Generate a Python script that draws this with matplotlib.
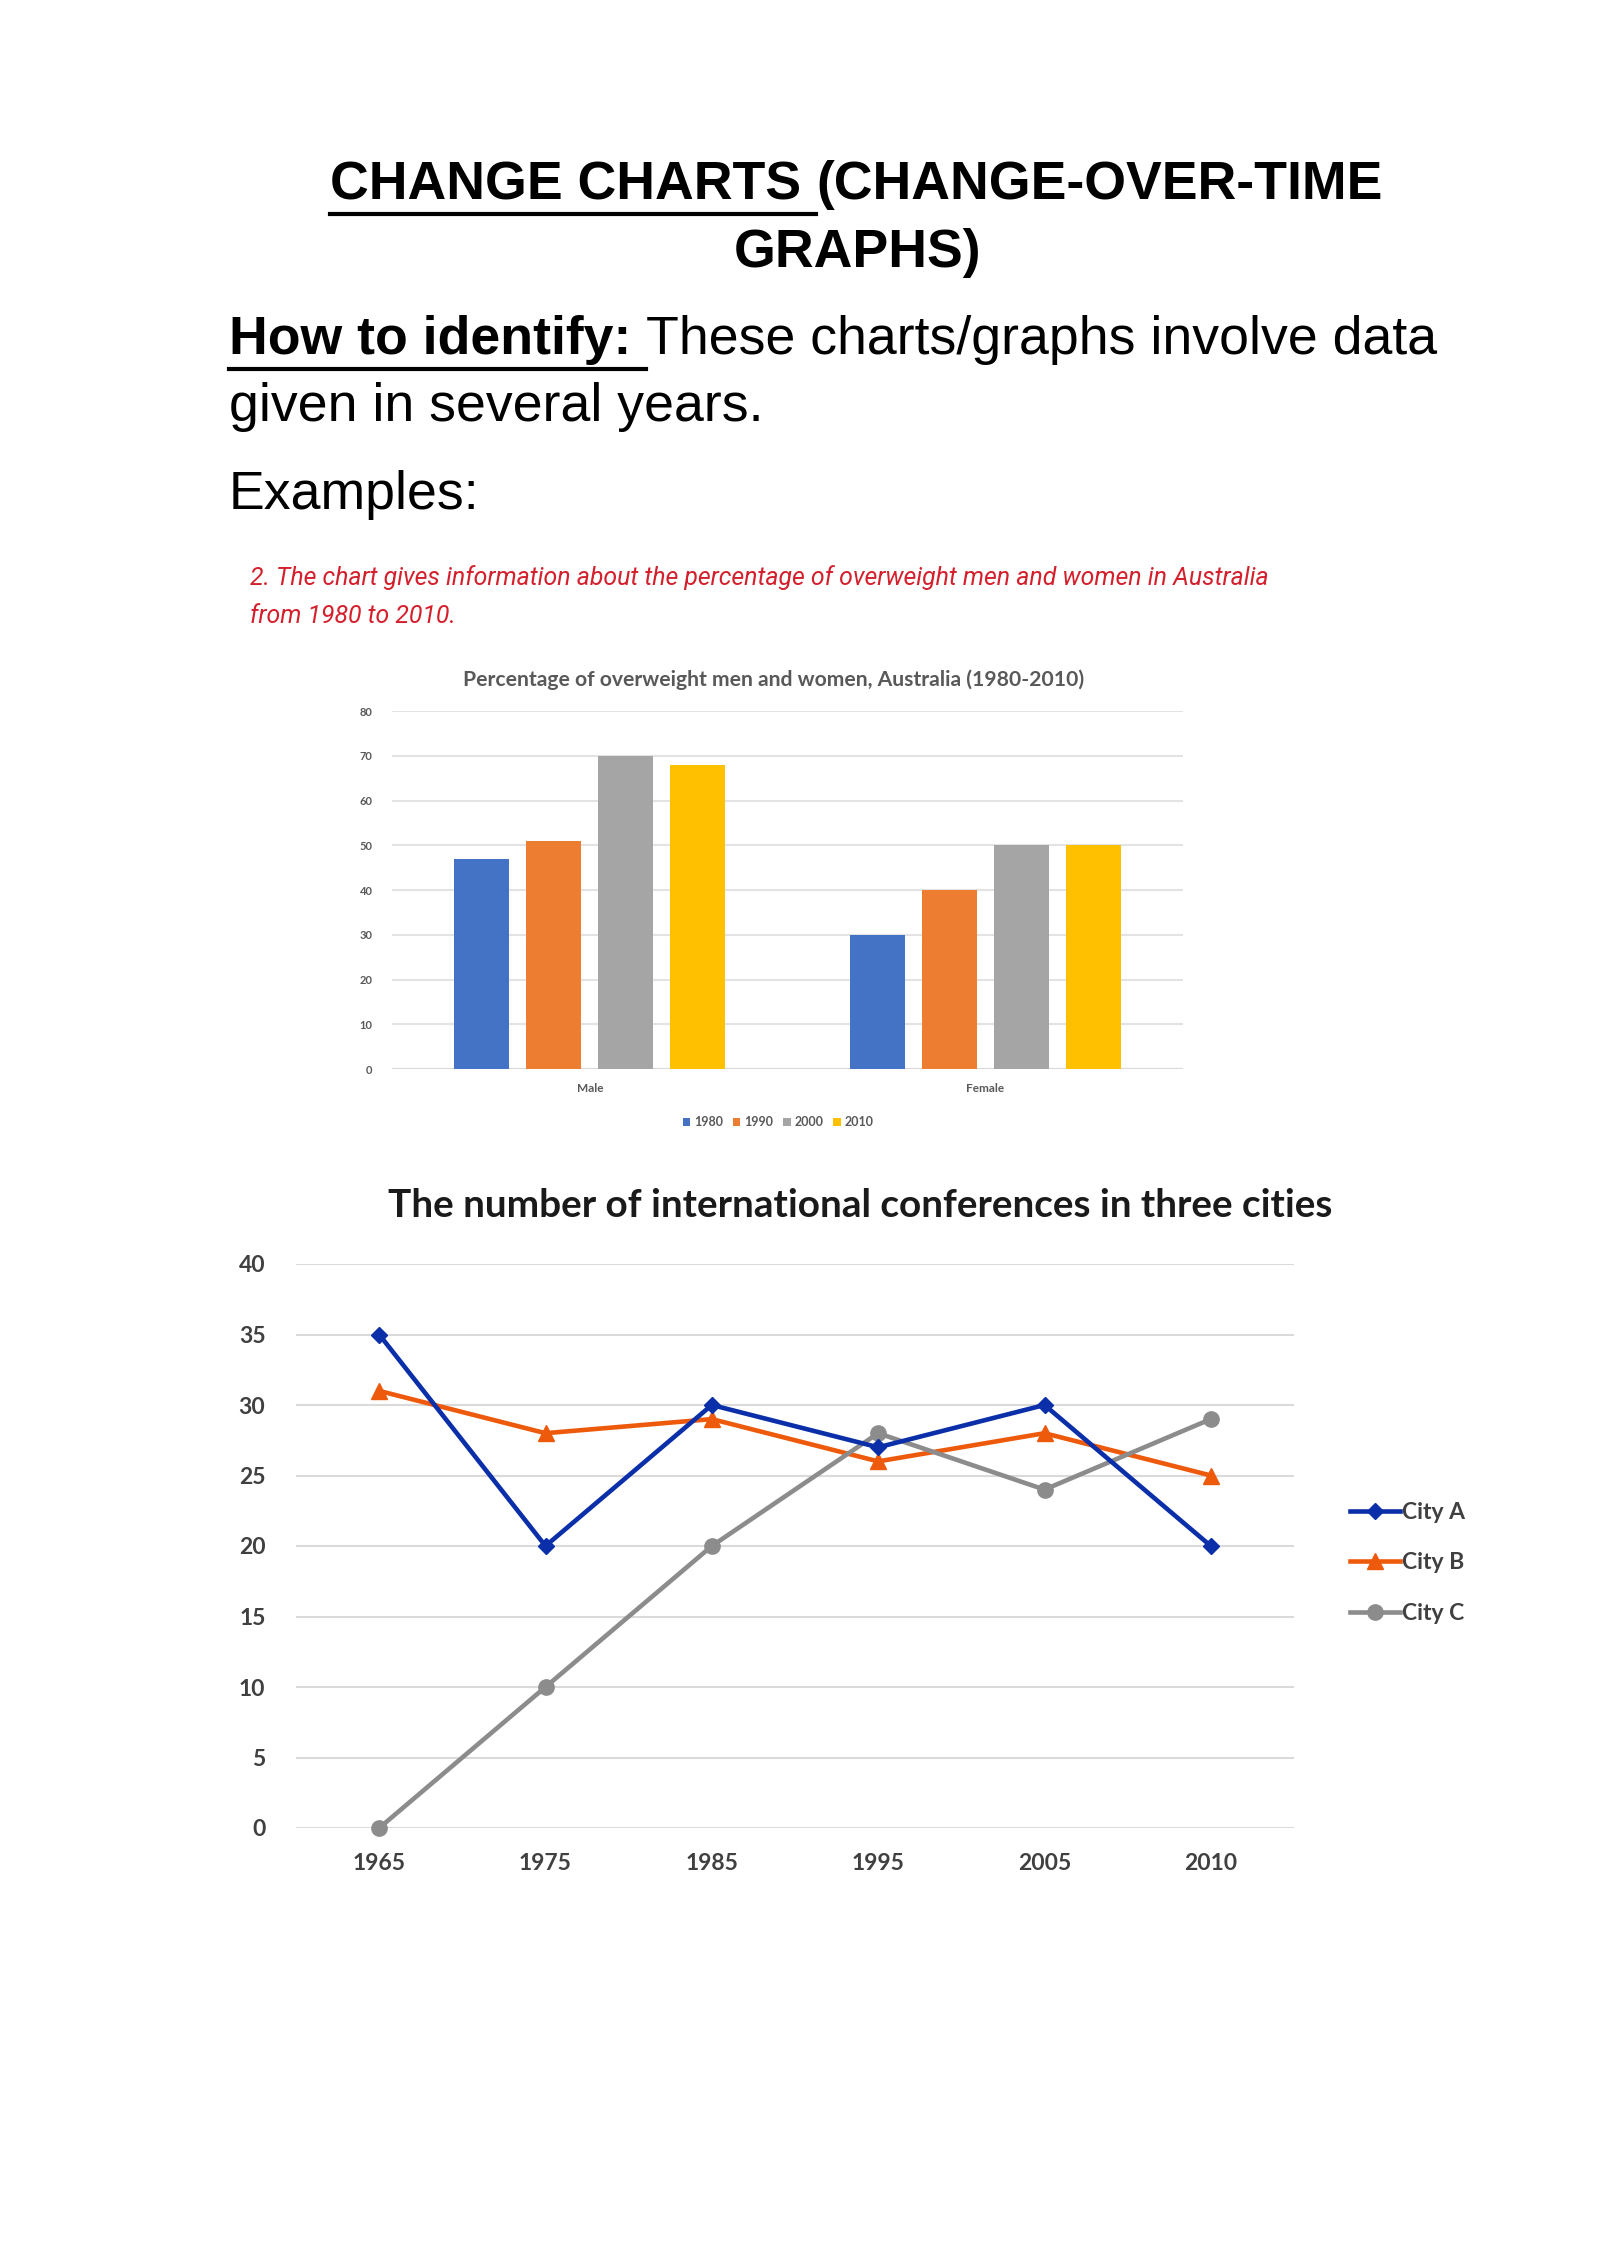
import matplotlib
matplotlib.use("Agg")
import matplotlib.pyplot as plt
import numpy as np
from matplotlib.lines import Line2D

# bar chart data
groups = ["Male", "Female"]
bar_years = ["1980", "1990", "2000", "2010"]
male_pct = [47, 51, 70, 68]
female_pct = [30, 40, 50, 50]
bar_colors = ["#4472C4", "#ED7D31", "#A5A5A5", "#FFC000"]

# line chart data
line_years = ["1965", "1975", "1985", "1995", "2005", "2010"]
city_a = [35, 20, 30, 27, 30, 20]
city_b = [31, 28, 29, 26, 28, 25]
city_c = [0, 10, 20, 28, 24, 29]

W, H = 1600, 2262
fig = plt.figure(figsize=(16, 22.62), dpi=100)
fig.patch.set_facecolor("white")


def fx(x):
    return x / W


def fy(y):
    return 1 - y / H


def underline(txt, y_off=6, lw=3):
    r = fig.canvas.get_renderer()
    bb = txt.get_window_extent(r)
    y = bb.y0 - y_off
    fig.add_artist(Line2D([bb.x0 / W, bb.x1 / W], [y / H, y / H], color="black", lw=lw,
                          transform=fig.transFigure))
    return bb


# page heading
hfont = "Liberation Sans"
hsize = 38.6
t1 = fig.text(fx(330), fy(185), "CHANGE CHARTS ", fontsize=hsize, fontweight="bold",
              family=hfont, va="center", ha="left")
fig.canvas.draw()
bb = underline(t1, y_off=4)
fig.text(bb.x1 / W, fy(185), "(CHANGE-OVER-TIME", fontsize=hsize, fontweight="bold",
         family=hfont, va="center", ha="left")
fig.text(fx(857), fy(253), "GRAPHS)", fontsize=hsize, fontweight="bold",
         family=hfont, va="center", ha="center")

t2 = fig.text(fx(229), fy(340), "How to identify: ", fontsize=hsize, fontweight="bold",
              family=hfont, va="center", ha="left")
fig.canvas.draw()
bb = underline(t2, y_off=4)
fig.text(bb.x1 / W, fy(340), "These charts/graphs involve data", fontsize=hsize,
         family=hfont, va="center", ha="left")
fig.text(fx(229), fy(407), "given in several years.", fontsize=hsize,
         family=hfont, va="center", ha="left")
fig.text(fx(229), fy(495), "Examples:", fontsize=hsize,
         family=hfont, va="center", ha="left")

red = "#D4202C"
fig.text(fx(250), fy(578), "2. The chart gives information about the percentage of overweight men and women in Australia",
         fontsize=17.9, style="italic", family="Roboto", color=red, va="center", ha="left")
fig.text(fx(250), fy(616), "from 1980 to 2010.",
         fontsize=17.9, style="italic", family="Roboto", color=red, va="center", ha="left")

# ---- bar chart ----
cfont = "Lato"
ax1 = fig.add_axes([fx(392), fy(1069), fx(1183 - 392), (1069 - 711) / H])
x = np.arange(len(groups))
width = 0.139
step = 0.182
for i, yr in enumerate(bar_years):
    vals = [male_pct[i], female_pct[i]]
    ax1.bar(x + (i - 1.5) * step, vals, width, color=bar_colors[i], label=yr, zorder=3)
ax1.set_xlim(-0.5, 1.5)
ax1.set_ylim(0, 80)
ax1.set_yticks(range(0, 81, 10))
ax1.set_xticks(x)
ax1.set_xticklabels(groups, family=cfont, fontsize=8.5, fontweight="bold", color="#595959")
for lab in ax1.get_yticklabels():
    lab.set_family(cfont)
    lab.set_fontsize(8)
    lab.set_fontweight("bold")
    lab.set_color("#595959")
ax1.tick_params(length=0, pad=14)
ax1.tick_params(axis="x", pad=10)
ax1.grid(axis="y", color="#E3E3E3", lw=1.5, zorder=0)
for s in ax1.spines.values():
    s.set_visible(False)
ax1.axhline(0, color="#D9D9D9", lw=1.5, zorder=2)
ax1.set_title("Percentage of overweight men and women, Australia (1980-2010)",
              family=cfont, fontsize=15.2, fontweight="bold", color="#595959", pad=18, x=0.482)
ax1.legend(loc="upper center", bbox_to_anchor=(0.488, -0.1), ncol=4, frameon=False,
           prop={"family": cfont, "size": 9, "weight": "bold"}, handlelength=0.6,
           handleheight=0.6, columnspacing=0.8, handletextpad=0.3, labelcolor="#595959")

# ---- line chart ----
ax2 = fig.add_axes([fx(296), fy(1828), fx(1294 - 296), (1828 - 1264) / H])
xi = np.arange(len(line_years))
ax2.plot(xi, city_a, color="#0A2FA8", lw=3.3, marker="D", ms=8, label="City A", zorder=4,
         clip_on=False)
ax2.plot(xi, city_b, color="#EE5A0C", lw=3.3, marker="^", ms=11, label="City B", zorder=3,
         clip_on=False)
ax2.plot(xi, city_c, color="#8C8C8C", lw=3.3, marker="o", ms=11, label="City C", zorder=3,
         clip_on=False)
ax2.set_xlim(-0.5, 5.5)
ax2.set_ylim(0, 40)
ax2.set_yticks(range(0, 41, 5))
ax2.set_xticks(xi)
ax2.set_xticklabels(line_years)
for lab in ax2.get_xticklabels() + ax2.get_yticklabels():
    lab.set_family(cfont)
    lab.set_fontsize(16.5)
    lab.set_fontweight("bold")
    lab.set_color("#404040")
ax2.tick_params(length=0)
ax2.tick_params(axis="y", pad=22)
ax2.tick_params(axis="x", pad=18)
ax2.grid(axis="y", color="#DADADA", lw=1.5, zorder=0)
for s in ax2.spines.values():
    s.set_visible(False)
ax2.set_title("The number of international conferences in three cities",
              family=cfont, fontsize=27.9, fontweight="bold", color="#1A1A1A", pad=34, x=0.565)
ax2.legend(loc="center left", bbox_to_anchor=(1.035, 0.47), frameon=False,
           prop={"family": cfont, "size": 16.5, "weight": "bold"}, handlelength=2.2,
           handletextpad=0.1, labelspacing=1.3, labelcolor="#404040")

fig.savefig("out.png", dpi=100, facecolor="white")
